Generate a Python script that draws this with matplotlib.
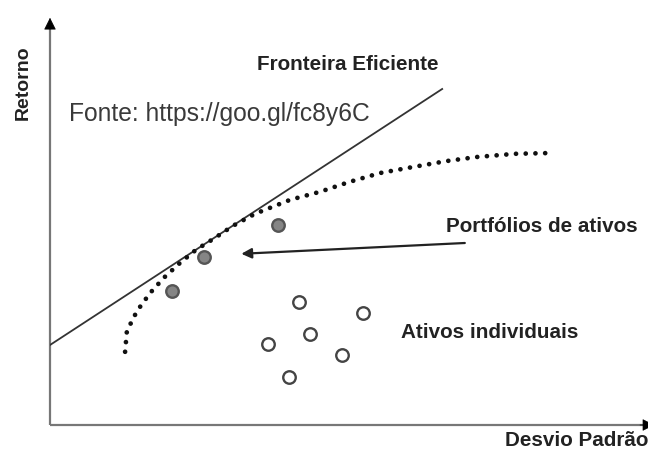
import matplotlib.pyplot as plt

# data space: x = desvio padrão, y = retorno (0..10 on both)
fronteira_x = [0.0, 6.58]
fronteira_y = [2.0, 8.40]

curva_x = [1.26, 1.29, 1.46, 1.68, 1.91, 2.18, 2.45, 2.77, 3.07, 3.44, 4.03,
           4.53, 5.03, 5.54, 6.09, 6.66, 7.16, 7.80, 8.42]
curva_y = [1.83, 2.35, 2.85, 3.30, 3.68, 4.05, 4.38, 4.68, 4.98, 5.28, 5.63,
           5.83, 6.08, 6.30, 6.45, 6.60, 6.70, 6.78, 6.80]

portfolio_x = [3.83, 2.58, 2.05]
portfolio_y = [5.00, 4.20, 3.35]

ativos_x = [4.18, 4.36, 3.66, 4.01, 4.90, 5.25]
ativos_y = [3.08, 2.28, 2.03, 1.20, 1.75, 2.80]

seta_de = (6.96, 4.55)
seta_para = (3.21, 4.28)

plt.rcParams['font.family'] = ['Liberation Sans', 'DejaVu Sans']

fig = plt.figure(figsize=(6.48, 4.49), dpi=100)
ax = fig.add_axes([50 / 648, 24 / 449, 596 / 648, 400 / 449])
ax.set_xlim(0, 10)
ax.set_ylim(0, 10)
ax.set_axis_off()

# eixos: linha cinza + ponta preta
axis_col = '#777777'
ax.plot([0, 0], [0, 10.05], color=axis_col, lw=1.6, clip_on=False, solid_capstyle='butt')
ax.plot([0, 10.05], [0, 0], color=axis_col, lw=1.6, clip_on=False, solid_capstyle='butt')
ax.annotate('', xy=(0, 1.018), xytext=(0, 0.99), xycoords='axes fraction',
            arrowprops=dict(arrowstyle='-|>', color='black', lw=0.5,
                            mutation_scale=19, shrinkA=0, shrinkB=0),
            annotation_clip=False)
ax.annotate('', xy=(1.014, 0), xytext=(0.99, 0), xycoords='axes fraction',
            arrowprops=dict(arrowstyle='-|>', color='black', lw=0.5,
                            mutation_scale=19, shrinkA=0, shrinkB=0),
            annotation_clip=False)

ax.plot(fronteira_x, fronteira_y, color='#333333', lw=1.3)

ax.plot(curva_x, curva_y, color='#111111', lw=3.4,
        linestyle=(0, (0.01, 2.05)), dash_capstyle='round')

ax.plot(portfolio_x, portfolio_y, 'o', ms=9, mfc='#858585', mec='#555555', mew=1.7)
ax.plot(ativos_x, ativos_y, 'o', ms=9, mfc='white', mec='#444444', mew=1.7)

ax.annotate('', xy=seta_para, xytext=seta_de,
            arrowprops=dict(arrowstyle='-|>', color='#222222', lw=1.6,
                            mutation_scale=15, shrinkA=0, shrinkB=0))

bold = dict(fontsize=14.9, fontweight='bold', color='#222222', va='center', ha='left')
ax.text(3.47, 9.0, 'Fronteira Eficiente', **bold)
ax.text(6.64, 4.95, 'Portfólios de ativos', **bold)
ax.text(5.89, 2.30, 'Ativos individuais', **bold)
ax.text(7.64, -0.38, 'Desvio Padrão', clip_on=False, **bold)
fig.text(23 / 648, 1 - 83 / 449, 'Retorno', rotation=90, fontsize=14,
         fontweight='bold', color='#222222', ha='center', va='center')

ax.text(0.32, 7.78, 'Fonte: https://goo.gl/fc8y6C', fontsize=17.7,
        color='#3a3a3a', va='center', ha='left')

fig.savefig('out.png', dpi=100)
